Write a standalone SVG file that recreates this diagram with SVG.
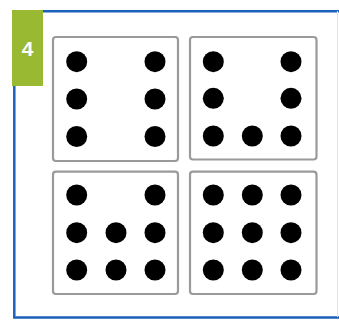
<svg xmlns="http://www.w3.org/2000/svg" width="339" height="322" viewBox="0 0 339 322">
<style>
.frame{fill:none;stroke:#1a62b8;stroke-width:2.5}
.die{fill:#fff;stroke:#9a9a9a;stroke-width:2.2}
.pip{fill:#000}
.badge-text{font-family:"Liberation Sans",Arial,sans-serif;font-weight:bold;font-size:21px;fill:#fff}
</style>
<rect width="339" height="322" fill="#fff"/>
<g id="frame">
<path class="frame" d="M14.3,11.2 H339 M14.3,11 V317.5 H339"/>
<line x1="337.5" y1="11" x2="337.5" y2="317" stroke="#dbe7f5" stroke-width="1"/>
</g>
<g id="badge">
<rect x="12" y="10" width="31" height="76" fill="#9ab932"/>
<text class="badge-text" x="27.5" y="56" text-anchor="middle">4</text>
</g>
<g id="die1">
<rect class="die" x="53" y="37" width="125" height="124" rx="3"/>
<circle class="pip" cx="76.7" cy="61.7" r="10.5"/>
<circle class="pip" cx="155" cy="61.7" r="10.5"/>
<circle class="pip" cx="76.7" cy="99" r="10.5"/>
<circle class="pip" cx="155" cy="99" r="10.5"/>
<circle class="pip" cx="76.7" cy="136.5" r="10.5"/>
<circle class="pip" cx="155" cy="136.5" r="10.5"/>
</g>
<g id="die2">
<rect class="die" x="190" y="37" width="126.5" height="122.5" rx="3"/>
<circle class="pip" cx="213.3" cy="61.7" r="10.5"/>
<circle class="pip" cx="291" cy="61.7" r="10.5"/>
<circle class="pip" cx="213.3" cy="98.3" r="10.5"/>
<circle class="pip" cx="291" cy="98.3" r="10.5"/>
<circle class="pip" cx="213.3" cy="136" r="10.5"/>
<circle class="pip" cx="252.3" cy="136" r="10.5"/>
<circle class="pip" cx="291" cy="136" r="10.5"/>
</g>
<g id="die3">
<rect class="die" x="53" y="171.7" width="125" height="122.3" rx="3"/>
<circle class="pip" cx="76.7" cy="195" r="10.5"/>
<circle class="pip" cx="155" cy="195" r="10.5"/>
<circle class="pip" cx="76.7" cy="232.7" r="10.5"/>
<circle class="pip" cx="116" cy="232.7" r="10.5"/>
<circle class="pip" cx="155" cy="232.7" r="10.5"/>
<circle class="pip" cx="76.7" cy="270" r="10.5"/>
<circle class="pip" cx="116" cy="270" r="10.5"/>
<circle class="pip" cx="155" cy="270" r="10.5"/>
</g>
<g id="die4">
<rect class="die" x="190" y="171.7" width="126.5" height="122.3" rx="3"/>
<circle class="pip" cx="213.3" cy="195" r="10.5"/>
<circle class="pip" cx="252.3" cy="195" r="10.5"/>
<circle class="pip" cx="291" cy="195" r="10.5"/>
<circle class="pip" cx="213.3" cy="232.7" r="10.5"/>
<circle class="pip" cx="252.3" cy="232.7" r="10.5"/>
<circle class="pip" cx="291" cy="232.7" r="10.5"/>
<circle class="pip" cx="213.3" cy="270" r="10.5"/>
<circle class="pip" cx="252.3" cy="270" r="10.5"/>
<circle class="pip" cx="291" cy="270" r="10.5"/>
</g>
<g id="connectors"/>
</svg>
